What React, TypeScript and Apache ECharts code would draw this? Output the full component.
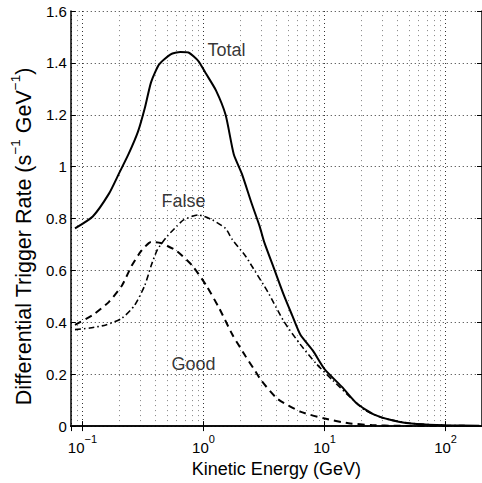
import React, { useEffect, useRef } from "react";
import * as echarts from "echarts";

// Kinetic energy (GeV) and differential trigger rate (s^-1 GeV^-1)
const totalEnergy = [0.0867, 0.1216, 0.1656, 0.1995, 0.24, 0.288, 0.327, 0.369, 0.431, 0.535, 0.643, 0.751, 0.904, 1.053, 1.267, 1.524, 1.778, 2.076, 2.5, 2.91, 3.19, 3.84, 4.62, 5.39, 6.3, 8.06, 10, 14, 18.5, 26, 40, 58, 100, 190];
const totalRate = [0.762, 0.808, 0.896, 0.972, 1.048, 1.136, 1.225, 1.326, 1.395, 1.433, 1.442, 1.44, 1.408, 1.357, 1.294, 1.199, 1.048, 0.972, 0.858, 0.77, 0.706, 0.605, 0.504, 0.428, 0.353, 0.289, 0.22, 0.15, 0.087, 0.043, 0.018, 0.008, 0.003, 0.001];

const goodEnergy = [0.0867, 0.1216, 0.1656, 0.212, 0.255, 0.306, 0.369, 0.443, 0.6, 0.81, 1.053, 1.35, 1.73, 2.22, 2.65, 3.0, 4.06, 6.3, 9.8, 15.8, 24.5, 40, 190];
const goodRate = [0.39, 0.428, 0.479, 0.542, 0.618, 0.675, 0.71, 0.706, 0.675, 0.618, 0.542, 0.454, 0.353, 0.27, 0.215, 0.176, 0.106, 0.056, 0.03, 0.011, 0.004, 0.001, 0];

const falseEnergy = [0.0867, 0.115, 0.156, 0.212, 0.27, 0.327, 0.369, 0.417, 0.502, 0.6, 0.684, 0.904, 1.18, 1.52, 1.73, 2.22, 2.5, 3.4, 4.62, 6.3, 8.6, 11.7, 16.8, 21.5, 31, 50, 100, 190];
const falseRate = [0.372, 0.378, 0.39, 0.416, 0.466, 0.542, 0.618, 0.681, 0.732, 0.77, 0.795, 0.814, 0.795, 0.762, 0.719, 0.656, 0.618, 0.517, 0.403, 0.315, 0.239, 0.176, 0.106, 0.062, 0.03, 0.011, 0.003, 0.001];

const labelNames = ["Total", "False", "Good"];
const labelEnergy = [1.55, 0.682, 0.828];
const labelRate = [1.448, 0.868, 0.239];

const xMin = 0.08;
const xMax = 200;
const yMin = 0;
const yMax = 1.6;
const yStep = 0.2;
const minorEnergies = [0.09, 0.2, 0.3, 0.4, 0.5, 0.6, 0.7, 0.8, 0.9, 2, 3, 4, 5, 6, 7, 8, 9, 20, 30, 40, 50, 60, 70, 80, 90];

const FONT = "'Liberation Sans', Arial, Helvetica, sans-serif";

const pairs = (xs: number[], ys: number[]) => xs.map((x, i) => [x, ys[i]]);

const decadeLabel = (v: number) => {
  const e = Math.round(Math.log10(v));
  if (Math.abs(v - Math.pow(10, e)) > 1e-6 * v) return "";
  const exp = e < 0 ? "\u2212" + Math.abs(e) : String(e);
  return "{b|10}{s|" + exp + "}";
};

export default function App() {
  const ref = useRef<HTMLDivElement>(null);
  useEffect(() => {
    if (!ref.current) return;
    const chart = echarts.init(ref.current, null, { renderer: "svg" });
    const axisLine = { show: true, lineStyle: { color: "#000", width: 1.5 } };
    chart.setOption({
      animation: false,
      backgroundColor: "#fff",
      textStyle: { fontFamily: FONT },
      grid: { left: 60.6, top: 11, width: 423.6, height: 422, containLabel: false },
      xAxis: [
        {
          type: "log",
          logBase: 10,
          min: xMin,
          max: xMax,
          position: "bottom",
          axisLine,
          axisTick: { show: true, inside: true, length: 5, lineStyle: { color: "#000", width: 1 } },
          axisLabel: {
            formatter: decadeLabel,
            showMinLabel: false,
            showMaxLabel: false,
            margin: 7,
            color: "#000",
            rich: {
              b: { fontSize: 15, lineHeight: 22, verticalAlign: "bottom", fontFamily: FONT, color: "#000" },
              s: { fontSize: 11, lineHeight: 11, verticalAlign: "top", fontFamily: FONT, color: "#000" },
            },
          },
          splitLine: { show: true, lineStyle: { color: "#000", type: [1, 3], width: 0.8 } },
          name: "Kinetic Energy (GeV)",
          nameLocation: "middle",
          nameGap: 32,
          nameTextStyle: { fontSize: 18, color: "#000", fontFamily: FONT },
        },
        {
          type: "log",
          logBase: 10,
          min: xMin,
          max: xMax,
          position: "top",
          axisLine,
          axisTick: { show: true, inside: true, length: 5, lineStyle: { color: "#000", width: 1 } },
          axisLabel: { show: false },
          splitLine: { show: false },
        },
      ],
      yAxis: [
        {
          type: "value",
          min: yMin,
          max: yMax,
          interval: yStep,
          position: "left",
          axisLine,
          axisTick: { show: true, inside: true, length: 5, lineStyle: { color: "#000", width: 1 } },
          axisLabel: { fontSize: 15, color: "#000", margin: 4, fontFamily: FONT },
          splitLine: { show: true, lineStyle: { color: "#000", type: [1, 3], width: 0.8 } },
          name: "{n|Differential Trigger Rate (s}{s|\u22121}{n| GeV}{s|\u22121}{n|)}",
          nameLocation: "middle",
          nameGap: 30,
          nameTextStyle: {
            color: "#000",
            fontFamily: FONT,
            padding: [0, 36, 0, 0],
            rich: {
              n: { fontSize: 21.5, lineHeight: 27, verticalAlign: "bottom", fontFamily: FONT, color: "#000" },
              s: { fontSize: 13.5, lineHeight: 13.5, verticalAlign: "top", fontFamily: FONT, color: "#000" },
            },
          },
        },
        {
          type: "value",
          min: yMin,
          max: yMax,
          interval: yStep,
          position: "right",
          axisLine,
          axisTick: { show: true, inside: true, length: 5, lineStyle: { color: "#000", width: 1 } },
          axisLabel: { show: false },
          splitLine: { show: false },
        },
      ],
      series: [
        {
          type: "line",
          name: "minorGrid",
          data: [],
          silent: true,
          z: 1,
          markLine: {
            silent: true,
            symbol: "none",
            label: { show: false },
            lineStyle: { color: "#000", type: [1, 4], width: 0.7, opacity: 0.7 },
            data: minorEnergies.map((e) => ({ xAxis: e })),
          },
        },
        {
          type: "line",
          name: "Total",
          data: pairs(totalEnergy, totalRate),
          showSymbol: false,
          smooth: 0.2,
          z: 3,
          lineStyle: { color: "#000", width: 2 },
        },
        {
          type: "line",
          name: "Good",
          data: pairs(goodEnergy, goodRate),
          showSymbol: false,
          smooth: 0.2,
          z: 3,
          lineStyle: { color: "#000", width: 2, type: [7, 5] },
        },
        {
          type: "line",
          name: "False",
          data: pairs(falseEnergy, falseRate),
          showSymbol: false,
          smooth: 0.2,
          z: 3,
          lineStyle: { color: "#000", width: 1.6, type: [6, 3, 1.5, 3] },
        },
        {
          type: "scatter",
          name: "labels",
          symbolSize: 0,
          z: 4,
          data: labelNames.map((n, i) => ({ name: n, value: [labelEnergy[i], labelRate[i]] })),
          label: { show: true, position: "inside", formatter: "{b}", color: "#000", fontSize: 18, fontFamily: FONT },
        },
      ],
    });
    return () => chart.dispose();
  }, []);
  return (
    <div
      ref={ref}
      style={{ position: "fixed", left: 0, top: 0, width: 482, height: 483, background: "#fff" }}
    />
  );
}
